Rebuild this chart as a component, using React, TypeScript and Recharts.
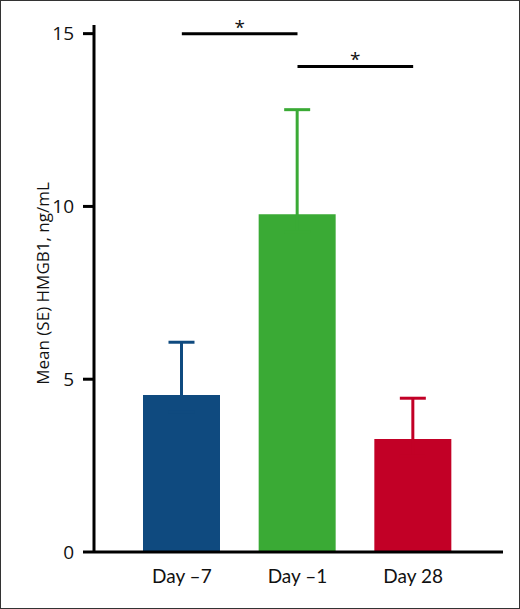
import React from 'react';
import { BarChart, Bar, XAxis, YAxis, ErrorBar, ReferenceLine } from 'recharts';

const categories = ['Day –7', 'Day –1', 'Day 28'];
const means = [4.54, 9.77, 3.27];
const errorTops = [6.07, 12.8, 4.45];
const seriesKeys = ['blue', 'green', 'red'];
const colors = ['#0f4a7f', '#3aaa35', '#c20026'];
const yTicks = [0, 5, 10, 15];
const sigFrom = ['Day –7', 'Day –1'];
const sigTo = ['Day –1', 'Day 28'];
const sigLevels = [15, 14.05];
const sigLabels = ['*', '*'];
// lower whisker hidden inside the bar (same colour)
const hiddenLow = 0.5;

const data = categories.map((day, i) => {
  const row: Record<string, any> = { day };
  row[seriesKeys[i]] = means[i];
  row[seriesKeys[i] + 'Err'] = [hiddenLow, +(errorTops[i] - means[i]).toFixed(2)];
  return row;
});

const YLabel = (props: any) => {
  const vb = props.viewBox || { x: 0, y: 25, width: 94, height: 527 };
  const cx = vb.x + 42;
  const cy = vb.y + vb.height / 2 - 5;
  return (
    <text
      x={cx}
      y={cy}
      transform={`rotate(-90 ${cx} ${cy})`}
      textAnchor="middle"
      dominantBaseline="central"
      fontSize={17}
      fontFamily="'Open Sans', sans-serif"
      fill="#111"
    >
      Mean (SE) HMGB1, ng/mL
    </text>
  );
};

export default function App() {
  return (
    <div style={{ position: 'fixed', left: 0, top: 0, width: 520, height: 609, background: '#fff' }}>
      <BarChart
        width={520}
        height={609}
        data={data}
        margin={{ top: 25, right: 17, bottom: 17, left: 0 }}
      >
        <XAxis
          dataKey="day"
          height={40}
          padding={{ left: 30, right: 32 }}
          tickLine={false}
          tickSize={0}
          tickMargin={18}
          axisLine={{ stroke: '#000', strokeWidth: 3 }}
          tick={{ fontSize: 19, fill: '#111', fontFamily: 'Lato, sans-serif' }}
        />
        <YAxis
          width={94}
          domain={[0, 15.25]}
          ticks={yTicks}
          interval={0}
          tickSize={11}
          tickMargin={9}
          axisLine={{ stroke: '#000', strokeWidth: 3 }}
          tickLine={{ stroke: '#000', strokeWidth: 3 }}
          tick={{ fontSize: 19, fill: '#111', fontFamily: "'Open Sans', sans-serif" }}
          label={<YLabel />}
        />
        {seriesKeys.map((k, i) => (
          <Bar key={k} dataKey={k} stackId="s" fill={colors[i]} barSize={77} isAnimationActive={false}>
            <ErrorBar
              dataKey={k + 'Err'}
              direction="y"
              width={13}
              stroke={colors[i]}
              strokeWidth={3}
              isAnimationActive={false}
            />
          </Bar>
        ))}
        {sigLevels.map((lv, i) => (
          <ReferenceLine
            key={i}
            segment={[{ x: sigFrom[i], y: lv }, { x: sigTo[i], y: lv }]}
            stroke="#000"
            strokeWidth={3}
            ifOverflow="visible"
            label={{ value: sigLabels[i], position: 'top', offset: 0, fontSize: 19, fill: '#111', fontFamily: "'Open Sans', sans-serif" }}
          />
        ))}
      </BarChart>
      <div
        style={{
          position: 'absolute',
          left: 0,
          top: 0,
          width: 520,
          height: 609,
          boxSizing: 'border-box',
          border: '1px solid #333',
          pointerEvents: 'none',
        }}
      />
    </div>
  );
}
